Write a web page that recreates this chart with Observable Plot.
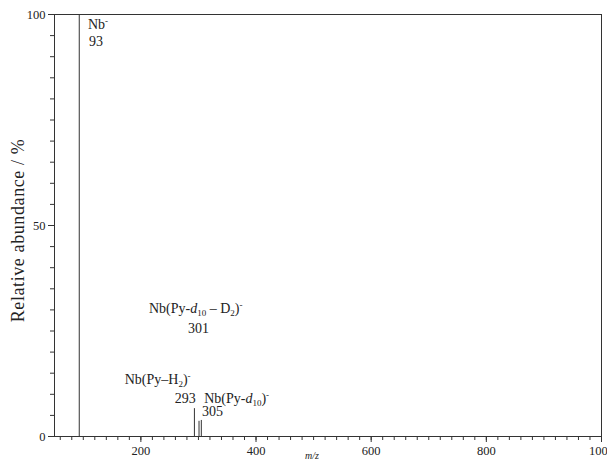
<!DOCTYPE html>
<html><head><meta charset="utf-8">
<script src="https://cdn.jsdelivr.net/npm/d3@7"></script>
<script src="https://cdn.jsdelivr.net/npm/@observablehq/plot@0.6"></script>
<style>
html,body{margin:0;padding:0;background:#fff;overflow:hidden;}
#chart{width:607px;height:462px;overflow:hidden;}
</style></head>
<body><div id="chart"></div>
<script>
// Peaks (m/z, relative abundance %)
const peakMz = [93, 293, 301, 305];
const peakAbundance = [100, 6.6, 3.6, 3.8];

// Annotation labels (markup: <i>, <sub>, <sup>) and their anchor positions in data units
const labelTexts = ["Nb<sup>-</sup>", "93", "Nb(Py-<i>d</i><sub>10</sub> – D<sub>2</sub>)<sup>-</sup>", "301",
                    "Nb(Py–H<sub>2</sub>)<sup>-</sup>", "293", "Nb(Py-<i>d</i><sub>10</sub>)<sup>-</sup>", "305"];
const labelMz = [108, 110, 214, 282, 172, 259, 310, 306];
const labelAbundance = [97.6, 93.6, 30.3, 25.6, 13.6, 9.1, 9.1, 5.9];

const xMajorTicks = [200, 400, 600, 800, 1000];
const xMinorTicks = d3.range(60, 1001, 20);
const yMajorTicks = [0, 50, 100];
const yMinorTicks = d3.range(0, 101, 5);
const xTitle = "m/z";
const yTitle = "Relative abundance / %";

const peaks = peakMz.map((m, i) => ({mz: m, ab: peakAbundance[i]}));
const labels = labelTexts.map((t, i) => ({t, mz: labelMz[i], ab: labelAbundance[i]}));

const ink = "#333";
const chart = Plot.plot({
  width: 607, height: 462,
  marginLeft: 54, marginRight: 6, marginTop: 14, marginBottom: 26,
  style: {fontFamily: "'Liberation Serif', serif", fontSize: "12px", color: "#222", background: "#fff"},
  x: {domain: [50, 1000]},
  y: {domain: [0, 100]},
  marks: [
    Plot.axisX({ticks: xMinorTicks, tickSize: 4, tickFormat: () => "", label: null, stroke: ink}),
    Plot.axisX({ticks: xMajorTicks, tickSize: 6, tickPadding: 4, tickFormat: d => String(d), label: null, stroke: ink, fontSize: 12.5}),
    Plot.axisY({ticks: yMinorTicks, tickSize: 4, tickFormat: () => "", label: null, stroke: ink}),
    Plot.axisY({ticks: yMajorTicks, tickSize: 6, tickPadding: 3, tickFormat: d => String(d), label: null, stroke: ink, fontSize: 12.5}),
    Plot.frame({stroke: ink, strokeWidth: 1}),
    Plot.ruleX(peaks, {x: "mz", y1: 0, y2: "ab", stroke: ink, strokeWidth: 1}),
    Plot.text(labels, {x: "mz", y: "ab", text: "t", textAnchor: "start", fontSize: 14, fill: "#222", className: "ann"}),
    Plot.text([xTitle], {frameAnchor: "bottom", textAnchor: "middle", dx: -16, dy: 22, fontSize: 10, fontStyle: "italic", fill: "#222"}),
    Plot.text([yTitle], {frameAnchor: "left", textAnchor: "middle", dx: -36, dy: 5, rotate: -90, fontSize: 18, fill: "#222", className: "ytitle"})
  ]
});
document.getElementById("chart").appendChild(chart);
chart.querySelectorAll("g.ytitle text").forEach(el => el.setAttribute("letter-spacing", "0.6"));

// Convert simple markup into tspans for sub/superscripts and italics
chart.querySelectorAll("g.ann text").forEach(el => {
  const src = el.textContent;
  el.textContent = "";
  const parts = src.split(/(<\/?(?:i|sub|sup)>)/);
  let italic = false, mode = null, shift = 0;
  for (const p of parts) {
    if (!p) continue;
    if (p === "<i>") { italic = true; continue; }
    if (p === "</i>") { italic = false; continue; }
    if (p === "<sub>") { mode = "sub"; continue; }
    if (p === "<sup>") { mode = "sup"; continue; }
    if (p === "</sub>" || p === "</sup>") { mode = null; continue; }
    const ts = document.createElementNS("http://www.w3.org/2000/svg", "tspan");
    ts.textContent = p;
    const target = mode === "sub" ? 3 : mode === "sup" ? -5 : 0;
    const dy = target - shift;
    if (dy !== 0) ts.setAttribute("dy", dy);
    shift = target;
    if (mode) ts.setAttribute("font-size", 9);
    if (italic) ts.setAttribute("font-style", "italic");
    el.appendChild(ts);
  }
});
</script>
</body></html>
